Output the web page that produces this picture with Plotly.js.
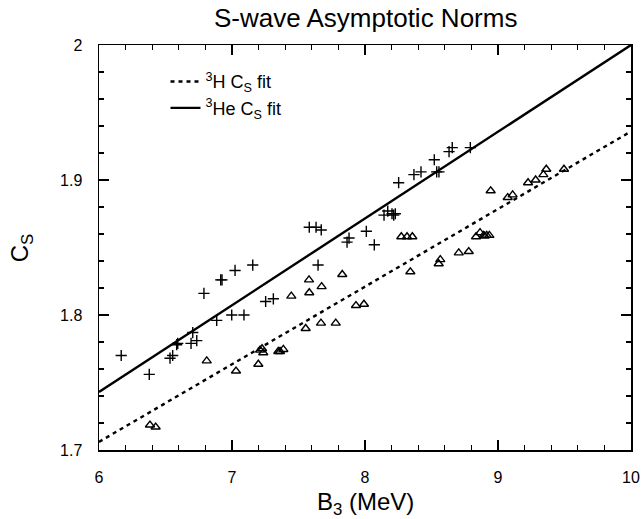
<!DOCTYPE html>
<html>
<head>
<meta charset="utf-8">
<script src="https://cdn.plot.ly/plotly-3.0.1.min.js"></script>
<style>html,body{margin:0;padding:0;background:#fff;}#chart{width:641px;height:519px;}</style>
</head>
<body>
<div id="chart"></div>
<script>
// 3He C_S values (plus markers)
const he3B = [6.167,6.378,6.534,6.554,6.584,6.592,6.692,6.735,6.705,6.789,6.885,6.915,6.925,6.998,7.023,7.090,7.156,7.253,7.311,7.581,7.632,7.647,7.671,7.865,7.880,8.010,8.070,8.143,8.171,8.203,8.216,8.228,8.253,8.368,8.421,8.521,8.539,8.556,8.632,8.656,8.792];
const he3C = [1.770,1.756,1.768,1.770,1.778,1.779,1.779,1.781,1.787,1.816,1.796,1.826,1.826,1.800,1.833,1.800,1.837,1.810,1.812,1.865,1.865,1.837,1.863,1.854,1.857,1.862,1.852,1.874,1.877,1.875,1.874,1.875,1.898,1.904,1.906,1.915,1.906,1.906,1.921,1.924,1.924];
// 3H C_S values (triangle markers)
const h3B = [6.383,6.426,6.810,7.030,7.198,7.211,7.226,7.235,7.348,7.361,7.386,7.446,7.554,7.579,7.581,7.669,7.674,7.780,7.829,7.932,7.992,8.273,8.316,8.341,8.356,8.554,8.566,8.705,8.780,8.835,8.865,8.892,8.900,8.915,8.935,8.945,9.073,9.110,9.226,9.283,9.341,9.363,9.496];
const h3C = [1.7185,1.717,1.766,1.7585,1.7635,1.774,1.775,1.772,1.773,1.773,1.7745,1.814,1.790,1.826,1.8165,1.794,1.821,1.794,1.830,1.807,1.808,1.858,1.858,1.832,1.858,1.838,1.841,1.846,1.847,1.858,1.861,1.859,1.8585,1.859,1.859,1.892,1.887,1.889,1.898,1.900,1.904,1.908,1.908];
// linear fits
const fitB = [6, 10];
const h3Fit = [1.706, 1.936];
const he3Fit = [1.743, 2.000];
const xRange = [6, 10];
const yRange = [1.7, 2.0];

const FONT = '"Liberation Sans", Arial, Helvetica, sans-serif';

const traces = [
  {x: he3B, y: he3C, type: 'scatter', mode: 'markers', showlegend: false,
   marker: {symbol: 'cross-thin-open', size: 8, color: '#000', line: {color: '#000', width: 1.4}}},
  {x: h3B, y: h3C, type: 'scatter', mode: 'markers', showlegend: false,
   marker: {symbol: 'triangle-up-open', size: 8, color: '#000', line: {color: '#000', width: 1.4}}},
  {x: fitB, y: h3Fit, type: 'scatter', mode: 'lines', name: '<sup>3</sup>H C<sub>S</sub> fit',
   xaxis: 'x2', yaxis: 'y2', line: {color: '#000', width: 2.4, dash: '4px,4px'}},
  {x: fitB, y: he3Fit, type: 'scatter', mode: 'lines', name: '<sup>3</sup>He C<sub>S</sub> fit',
   xaxis: 'x2', yaxis: 'y2', line: {color: '#000', width: 2.4}}
];

const axisCommon = {
  showgrid: false, zeroline: false, showline: true, linecolor: '#000', linewidth: 1.5,
  mirror: 'allticks', ticks: 'inside', ticklen: 10, tickwidth: 1.4, tickcolor: '#000',
  tickfont: {family: FONT, size: 16, color: '#000'}, ticklabelstandoff: 12
};
const minorCommon = {
  showgrid: false, zeroline: false, showline: false, showticklabels: false,
  mirror: 'allticks', ticks: 'inside', ticklen: 5, tickwidth: 1.2, tickcolor: '#000'
};

const layout = {
  width: 641, height: 519,
  margin: {l: 99, r: 10, t: 45, b: 69},
  plot_bgcolor: '#fff',
  xaxis: Object.assign({}, axisCommon, {range: xRange, dtick: 1, tick0: 6}),
  yaxis: Object.assign({}, axisCommon, {range: yRange, dtick: 0.1, tick0: 1.7}),
  xaxis2: Object.assign({}, minorCommon, {overlaying: 'x', anchor: 'y', side: 'bottom', range: xRange, dtick: 0.2, tick0: 6}),
  yaxis2: Object.assign({}, minorCommon, {overlaying: 'y', anchor: 'x', side: 'left', range: yRange, dtick: 0.02, tick0: 1.7}),
  annotations: [
    {text: 'S-wave Asymptotic Norms', xref: 'paper', yref: 'paper', x: 0.5, y: 1.066, xanchor: 'center', yanchor: 'middle',
     showarrow: false, font: {family: FONT, size: 26, color: '#000'}},
    {text: 'B<sub>3</sub> (MeV)', xref: 'paper', yref: 'paper', x: 0.5, y: -0.131, xanchor: 'center', yanchor: 'middle',
     showarrow: false, font: {family: FONT, size: 24, color: '#000'}},
    {text: 'C<sub>S</sub>', xref: 'paper', yref: 'paper', x: -0.145, y: 0.5, xanchor: 'center', yanchor: 'middle',
     textangle: -90, showarrow: false, font: {family: FONT, size: 24, color: '#000'}}
  ],
  showlegend: true,
  legend: {x: 0.125, y: 0.955, xanchor: 'left', yanchor: 'top', bgcolor: 'rgba(0,0,0,0)',
           font: {family: FONT, size: 18, color: '#000'}}
};

Plotly.newPlot('chart', traces, layout, {displayModeBar: false, staticPlot: true});
</script>
</body>
</html>
